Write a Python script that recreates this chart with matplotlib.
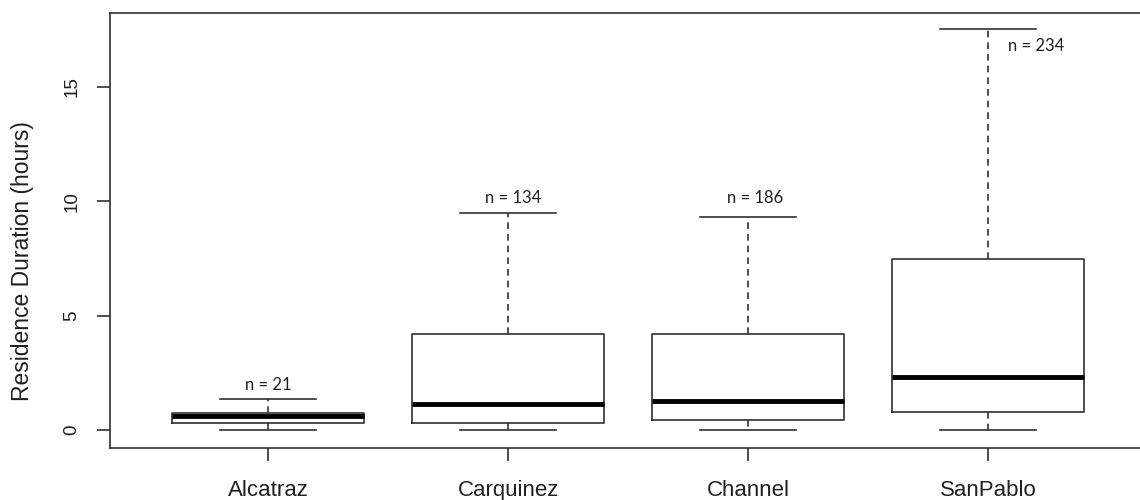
import matplotlib
matplotlib.use("Agg")
import matplotlib.pyplot as plt

# sites and the five-number summaries (hours)
sites = ["Alcatraz", "Carquinez", "Channel", "SanPablo"]
lower = [0.0, 0.0, 0.0, 0.0]
q1 = [0.29, 0.29, 0.43, 0.77]
median = [0.62, 1.16, 1.29, 2.33]
q3 = [0.73, 4.2, 4.2, 7.48]
upper = [1.36, 9.48, 9.33, 17.53]
counts = [21, 134, 186, 234]

# where each n label sits (x offset in box units, y in hours)
label_dx = [0.0, 0.02, 0.03, 0.2]
label_y = [1.95, 10.15, 10.15, 16.8]

plt.rcParams['font.family'] = ['Liberation Sans', 'DejaVu Sans']
line_col = '#303030'

fig = plt.figure(figsize=(11.4, 5.0), dpi=100)
ax = fig.add_axes([110 / 1140, 0.1046, 1036.8 / 1140, 0.87])

stats = []
for i in range(len(sites)):
    stats.append({
        'label': sites[i], 'whislo': lower[i], 'q1': q1[i], 'med': median[i],
        'q3': q3[i], 'whishi': upper[i], 'fliers': [],
    })

positions = list(range(1, len(sites) + 1))
ax.bxp(stats, positions=positions, widths=0.8, showfliers=False,
       boxprops=dict(color=line_col, linewidth=1.2),
       medianprops=dict(color='black', linewidth=3.5, solid_capstyle='butt'),
       whiskerprops=dict(color=line_col, linewidth=1.2, linestyle=(0, (4, 3))),
       capprops=dict(color=line_col, linewidth=1.2),
       capwidths=0.4)

for i in range(len(sites)):
    ax.text(positions[i] + label_dx[i], label_y[i], f"n = {counts[i]}",
            ha='center', va='center', fontsize=12, color='#202020',
            family=['Lato', 'DejaVu Sans'])

ax.set_xlim(0.34, 4.66)
ax.set_ylim(-0.77, 18.25)
ax.set_yticks([0, 5, 10, 15])
ax.set_yticklabels(['0', '5', '10', '15'], rotation=90, va='center')
ax.set_xticks(positions)
ax.set_xticklabels(sites)
ax.tick_params(axis='both', direction='out', length=9.5, width=1.2,
               colors=line_col, labelcolor='#202020')
ax.tick_params(axis='y', pad=12, labelsize=13.5)
ax.tick_params(axis='x', pad=13.5, labelsize=16)
ax.set_ylabel('Residence Duration (hours)', fontsize=16.5, color='#202020')
ax.yaxis.set_label_coords(-0.0733, 0.429)

for side in ['top', 'left', 'bottom', 'right']:
    ax.spines[side].set_color(line_col)
    ax.spines[side].set_linewidth(1.2)

fig.savefig('out.png', dpi=100)
